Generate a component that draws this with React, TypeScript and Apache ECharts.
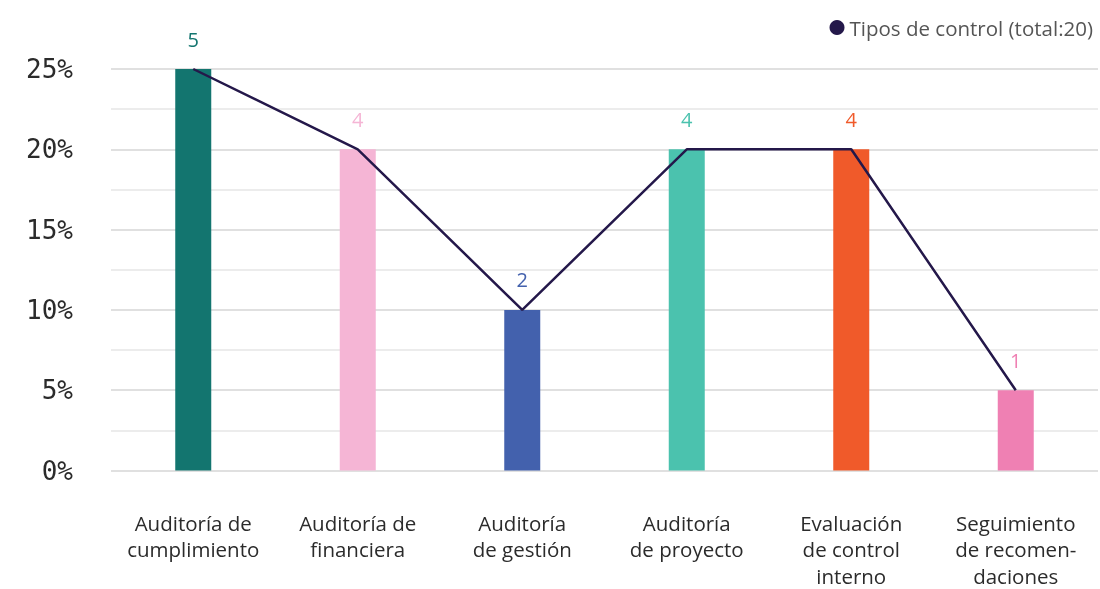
import React, { useEffect, useRef } from "react";
import * as echarts from "echarts";

const categories = [
  "Auditoría de\ncumplimiento",
  "Auditoría de\nfinanciera",
  "Auditoría\nde gestión",
  "Auditoría\nde proyecto",
  "Evaluación\nde control\ninterno",
  "Seguimiento\nde recomen-\ndaciones",
];
const percentValues = [25, 20, 10, 20, 20, 5];
const countValues = [5, 4, 2, 4, 4, 1];
const barColors = ["#13756f", "#f5b5d5", "#4361ad", "#4bc2ae", "#f05a2a", "#ef80b3"];
const yTicks = [0, 5, 10, 15, 20, 25];
const lineName = "Tipos de control (total:20)";

export default function App() {
  const ref = useRef<HTMLDivElement>(null);
  useEffect(() => {
    if (!ref.current) return;
    const chart = echarts.init(ref.current, null, { renderer: "svg" });
    chart.setOption({
      animation: false,
      legend: {
        data: [{ name: lineName, icon: "circle" }],
        right: 2,
        top: 12,
        itemWidth: 15,
        itemHeight: 15,
        itemGap: 6,
        textStyle: { fontFamily: "Open Sans", fontSize: 20.5, color: "#555" },
      },
      grid: { left: 111, right: 2, top: 69, bottom: 107 },
      xAxis: {
        type: "category",
        data: categories,
        axisLine: { show: false },
        axisTick: { show: false },
        axisLabel: {
          interval: 0,
          margin: 39,
          fontFamily: "Open Sans",
          fontSize: 20.5,
          lineHeight: 26.5,
          color: "#2b2b2b",
        },
      },
      yAxis: {
        type: "value",
        min: yTicks[0],
        max: yTicks[yTicks.length - 1],
        interval: 5,
        axisLine: { show: false },
        axisTick: { show: false },
        axisLabel: {
          formatter: (v: number) => v + "%",
          margin: 38,
          fontFamily: "DejaVu Sans Mono",
          fontSize: 26,
          color: "#2b2b2b",
        },
        splitLine: { lineStyle: { color: "#e0e0e0", width: 2 } },
        minorTick: { show: false, splitNumber: 2 },
        minorSplitLine: { show: true, lineStyle: { color: "#e6e6e6", width: 1.5 } },
      },
      series: [
        {
          type: "bar",
          barWidth: 36,
          data: percentValues.map((v, i) => ({
            value: v,
            itemStyle: { color: barColors[i] },
            label: {
              show: true,
              position: "top",
              distance: 20,
              formatter: String(countValues[i]),
              color: barColors[i],
              fontFamily: "Open Sans",
              fontSize: 20,
            },
          })),
        },
        {
          name: lineName,
          type: "line",
          data: percentValues,
          showSymbol: false,
          symbol: "circle",
          itemStyle: { color: "#24184a" },
          lineStyle: { color: "#24184a", width: 2.5 },
          z: 5,
        },
      ],
    });
    return () => chart.dispose();
  }, []);
  return (
    <div
      ref={ref}
      style={{ position: "fixed", left: 0, top: 0, width: 1100, height: 589 }}
    />
  );
}
